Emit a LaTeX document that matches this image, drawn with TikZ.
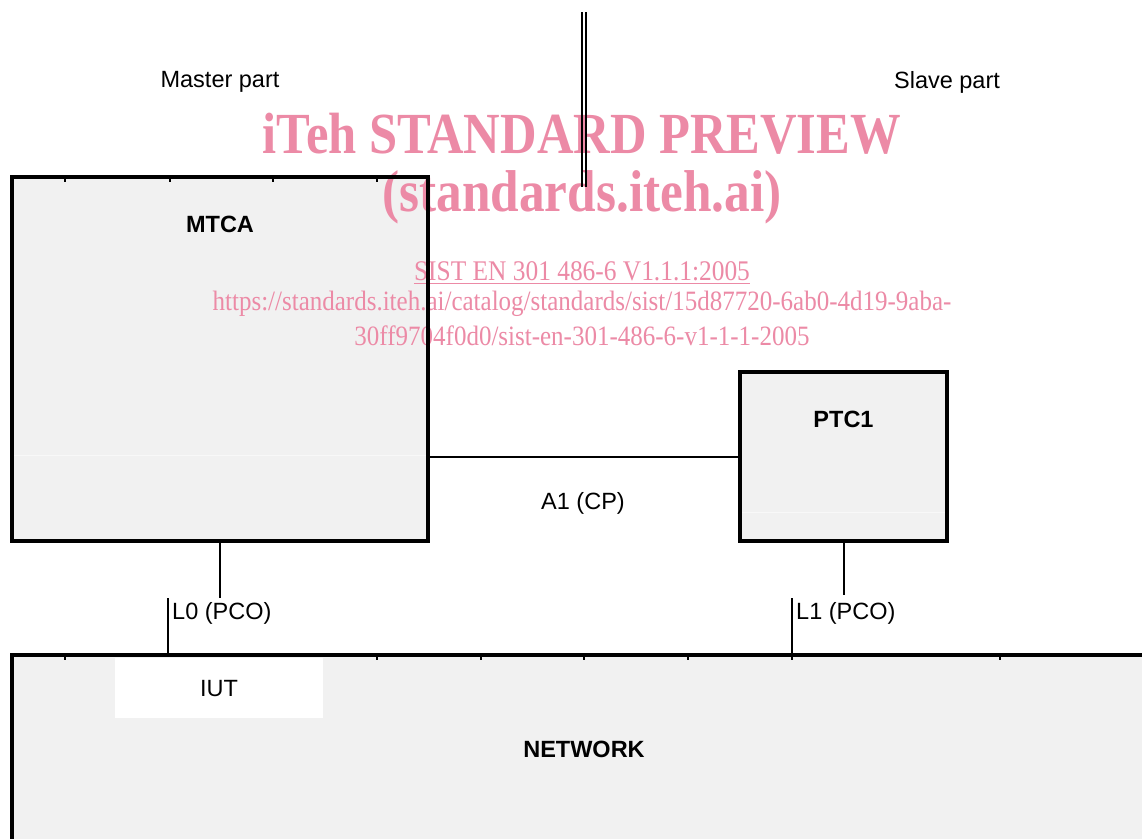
\documentclass[tikz,border=0pt]{standalone}
\usepackage{fontspec}
\setmainfont{Liberation Sans}
\newfontfamily\wmfont{Liberation Serif}
\definecolor{boxfill}{RGB}{241,241,241}
\definecolor{faint}{RGB}{248,248,248}
\definecolor{wmpink}{RGB}{236,138,166}
\tikzset{
  blockbox/.style={draw=black, line width=3.5pt, fill=boxfill, rectangle, inner sep=0pt},
  conn/.style={draw=black, line width=2pt},
  tickmark/.style={draw=black, line width=2pt},
  txt/.style={font=\fontsize{23.5}{26}\selectfont, inner sep=0pt},
  btxt/.style={font=\fontsize{23.5}{26}\selectfont\bfseries, inner sep=0pt},
  wm/.style={text=wmpink, inner sep=0pt}
}
\begin{document}
\begin{tikzpicture}[x=1pt, y=-1pt]
\useasboundingbox (0,0) rectangle (1142,838);
\fill[white] (0,0) rectangle (1142,838);
% fills
\node[blockbox, draw=none, minimum width=416pt, minimum height=364pt] (mtcafill) at (220,359) {};
\node[blockbox, draw=none, minimum width=207pt, minimum height=169pt] (ptcfill) at (843.5,456.5) {};
\fill[boxfill] (12,655) rectangle (1160,860);
\draw[faint, line width=1pt] (14,455) -- (426,455);
\draw[faint, line width=1pt] (742,512) -- (945,512);
% watermark
\node[wm, font=\wmfont\fontsize{50.6}{52}\selectfont\bfseries] (wm1) at (582,134) {\scalebox{1}[1.15]{iTeh STANDARD PREVIEW}};
\node[wm, font=\wmfont\fontsize{51.3}{52}\selectfont\bfseries] (wm2) at (582,197) {\scalebox{1}[1.15]{(standards.iteh.ai)}};
\node[wm, font=\wmfont\fontsize{25.4}{27}\selectfont] (wm3) at (582,271) {\scalebox{1}[1.12]{SIST EN 301 486-6 V1.1.1:2005}};
\draw[wmpink, line width=1.2pt] (wm3.south west) ++(0,3) -- ([yshift=-3pt]wm3.south east);
\node[wm, font=\wmfont\fontsize{25}{27}\selectfont] (wm4) at (582,304) {\scalebox{1}[1.12]{https://standards.iteh.ai/catalog/standards/sist/15d87720-6ab0-4d19-9aba-}};
\node[wm, font=\wmfont\fontsize{25}{27}\selectfont] (wm5) at (582,336) {\scalebox{1}[1.12]{30ff9704f0d0/sist-en-301-486-6-v1-1-1-2005}};
% double line
\coordinate (dtop) at (584,12);
\coordinate (dbot) at (584,187);
\draw[line width=1.6pt] ([xshift=-2pt]dtop) -- ([xshift=-2pt]dbot);
\draw[line width=1.6pt] ([xshift=2pt]dtop) -- ([xshift=2pt]dbot);
% boxes
\node[blockbox, fill=none, minimum width=416pt, minimum height=364pt] (mtca) at (220,359) {};
\node[blockbox, fill=none, minimum width=207pt, minimum height=169pt] (ptc1) at (843.5,456.5) {};
% network
\fill[white] (115,658) rectangle (323,718);
\node[inner sep=0pt, minimum width=208pt, minimum height=60pt] (iut) at (219,688) {};
\coordinate (netnw) at (12,655);
\coordinate (netne) at (1160,655);
\coordinate (netsw) at (12,860);
\draw[line width=3.5pt] (netsw) -- (netnw) -- (netne);
% ticks
\foreach \x in {65,170,273,377} \draw[tickmark] (\x,177) -- (\x,182);
\foreach \x in {65,377,481,584,688,792,1000} \draw[tickmark] (\x,655) -- (\x,660);
% labels
\node[txt] (master) at (220,82) {Master part};
\node[txt] (slave) at (947,82) {Slave part};
\node[btxt] (mtcaL) at (220,224) {MTCA};
\node[btxt] (ptcL) at (843.5,419) {PTC1};
\node[txt] (iutL) at ([yshift=-1pt]iut) {IUT};
\node[btxt] (netL) at (584,749) {NETWORK};
% connectors
\draw[conn] (ptc1.west) -- (ptc1.west -| mtca.east);
\node[txt] (a1) at (583,503) {A1 (CP)};
\coordinate (l0a) at (220,598);
\coordinate (l0b) at (168,598);
\draw[conn] (mtca.south) -- (l0a);
\draw[conn] (l0b) -- (l0b |- netnw);
\node[txt, anchor=west] (l0L) at (172,613) {L0 (PCO)};
\coordinate (l1a) at (843.5,595);
\coordinate (l1b) at (792,598);
\draw[conn] (ptc1.south) -- (l1a);
\draw[conn] (l1b) -- (l1b |- netnw);
\node[txt, anchor=west] (l1L) at (796,613) {L1 (PCO)};
\end{tikzpicture}
\end{document}
